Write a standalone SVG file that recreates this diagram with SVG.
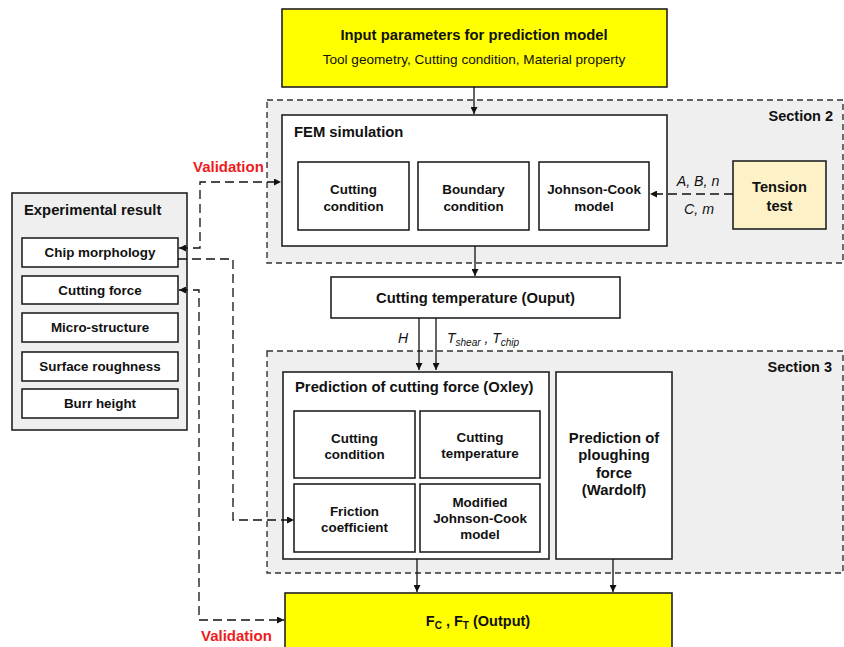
<svg xmlns="http://www.w3.org/2000/svg" width="844" height="647" viewBox="0 0 844 647">
<defs>
<marker id="ah" viewBox="0 0 10 10" refX="10" refY="5" markerWidth="7" markerHeight="7" orient="auto-start-reverse" markerUnits="userSpaceOnUse">
<path d="M0,0 L10,5 L0,10 z" fill="#111"/>
</marker>
<style>
text{font-family:"Liberation Sans",Arial,sans-serif;fill:#111;}
.b{font-weight:bold;}
.c{text-anchor:middle;}
.box{fill:#fff;stroke:#222;stroke-width:1.6;}
.sec{fill:#efefef;stroke:#333;stroke-width:1.4;stroke-dasharray:6,4;}
.yel{fill:#ffff00;stroke:#222;stroke-width:1.6;}
.ln{fill:none;stroke:#111;stroke-width:1.3;}
.dl{fill:none;stroke:#111;stroke-width:1.3;stroke-dasharray:9,5;}
.red{fill:#ee1c1c;font-weight:bold;font-size:15px;}
.t15{font-size:14.8px;}
.t12{font-size:13.4px;}
</style>
</defs>

<g id="section2"><rect class="sec" x="267" y="100" width="576" height="163"/>
<text class="b" x="833" y="121" text-anchor="end" font-size="14.5">Section 2</text></g>
<g id="section3"><rect class="sec" x="267" y="351" width="576" height="222"/>
<text class="b" x="832" y="372" text-anchor="end" font-size="14.5">Section 3</text></g>

<g id="input"><rect class="yel" x="282" y="9" width="385" height="78"/>
<text class="b c" x="474" y="40" font-size="14.8">Input parameters for prediction model</text>
<text class="c" x="474" y="64" font-size="13.6">Tool geometry, Cutting condition, Material property</text></g>

<g id="fem"><rect class="box" x="282" y="115" width="385" height="131"/>
<text class="b t15" x="294" y="137">FEM simulation</text></g>
<g id="fem-cutting"><rect class="box" x="298" y="162" width="111" height="68"/>
<text class="b c t12" x="353.5" y="194">Cutting</text><text class="b c t12" x="353.5" y="211">condition</text></g>
<g id="fem-boundary"><rect class="box" x="418" y="162" width="111" height="68"/>
<text class="b c t12" x="473.5" y="194">Boundary</text><text class="b c t12" x="473.5" y="211">condition</text></g>
<g id="fem-jc"><rect class="box" x="539" y="162" width="110" height="68"/>
<text class="b c t12" x="594" y="194">Johnson-Cook</text><text class="b c t12" x="594" y="211">model</text></g>

<g id="tension"><rect x="733" y="161" width="93" height="68" fill="#fdf1c7" stroke="#222" stroke-width="1.6"/>
<text class="b c" x="779.5" y="192" font-size="14.6">Tension</text><text class="b c" x="779.5" y="211" font-size="14.6">test</text></g>

<g id="experimental"><rect x="12" y="193" width="175" height="237" fill="#efefef" stroke="#222" stroke-width="1.6"/>
<text class="b t15" x="24" y="215">Experimental result</text></g>
<g id="exp-chip"><rect class="box" x="22" y="238" width="156" height="29"/><text class="b c t12" x="100" y="257">Chip morphology</text></g>
<g id="exp-force"><rect class="box" x="22" y="276" width="156" height="28"/><text class="b c t12" x="100" y="295">Cutting force</text></g>
<g id="exp-micro"><rect class="box" x="22" y="313" width="156" height="29"/><text class="b c t12" x="100" y="332">Micro-structure</text></g>
<g id="exp-surface"><rect class="box" x="22" y="352" width="156" height="29"/><text class="b c t12" x="100" y="371">Surface roughness</text></g>
<g id="exp-burr"><rect class="box" x="22" y="389" width="156" height="29"/><text class="b c t12" x="100" y="408">Burr height</text></g>

<g id="temperature"><rect class="box" x="331" y="277" width="289" height="41"/>
<text class="b c t15" x="475.5" y="303">Cutting temperature (Ouput)</text></g>

<g id="oxley"><rect class="box" x="283" y="372" width="266" height="187"/>
<text class="b t15" x="295" y="392">Prediction of cutting force (Oxley)</text></g>
<g id="ox-cutting"><rect class="box" x="294" y="411" width="121" height="67"/>
<text class="b c t12" x="354.5" y="443">Cutting</text><text class="b c t12" x="354.5" y="459">condition</text></g>
<g id="ox-temp"><rect class="box" x="420" y="411" width="120" height="67"/>
<text class="b c t12" x="480" y="442">Cutting</text><text class="b c t12" x="480" y="458">temperature</text></g>
<g id="ox-friction"><rect class="box" x="294" y="484" width="121" height="68"/>
<text class="b c t12" x="354.5" y="516">Friction</text><text class="b c t12" x="354.5" y="532">coefficient</text></g>
<g id="ox-mjc"><rect class="box" x="420" y="484" width="120" height="68"/>
<text class="b c t12" x="480" y="507">Modified</text><text class="b c t12" x="480" y="523">Johnson-Cook</text><text class="b c t12" x="480" y="539">model</text></g>

<g id="wardolf"><rect class="box" x="556" y="372" width="116" height="187"/>
<text class="b c t15" x="614" y="443">Prediction of</text>
<text class="b c t15" x="614" y="460">ploughing</text>
<text class="b c t15" x="614" y="478">force</text>
<text class="b c t15" x="614" y="495">(Wardolf)</text></g>

<g id="output"><rect class="yel" x="285" y="593" width="387" height="70"/>
<text class="b c" x="478" y="626" font-size="14.5">F<tspan font-size="10" dy="3">C</tspan><tspan dy="-3"> , F</tspan><tspan font-size="10" dy="3">T</tspan><tspan dy="-3"> (Output)</tspan></text></g>

<g id="connectors">
<path class="ln" d="M474,87 V114" marker-end="url(#ah)"/>
<path class="ln" d="M475,246 V276" marker-end="url(#ah)"/>
<path class="ln" d="M419,318 V370" marker-end="url(#ah)"/>
<path class="ln" d="M436,318 V370" marker-end="url(#ah)"/>
<path class="ln" d="M417,559 V592" marker-end="url(#ah)"/>
<path class="ln" d="M613,559 V592" marker-end="url(#ah)"/>
<path class="dl" d="M733,194 H650" marker-end="url(#ah)"/>
<path class="dl" d="M179,248 H200 V182 H281" marker-start="url(#ah)" marker-end="url(#ah)"/>
<path class="dl" d="M178,259 H233 V520 H294" marker-end="url(#ah)"/>
<path class="dl" d="M179,290 H199 V620 H284" marker-start="url(#ah)" marker-end="url(#ah)"/>
<text x="698" y="186" font-size="14.2" font-style="italic" class="c">A, B, n</text>
<text x="699" y="214" font-size="14.2" font-style="italic" class="c">C, m</text>
<text x="403" y="343" font-size="14" font-style="italic" class="c">H</text>
<text x="447" y="343" font-size="14" font-style="italic">T<tspan font-size="10" dy="3">shear</tspan><tspan dy="-3"> , T</tspan><tspan font-size="10" dy="3">chip</tspan></text>
<text class="red" x="193" y="172">Validation</text>
<text class="red" x="201" y="641">Validation</text>
</g>
</svg>
